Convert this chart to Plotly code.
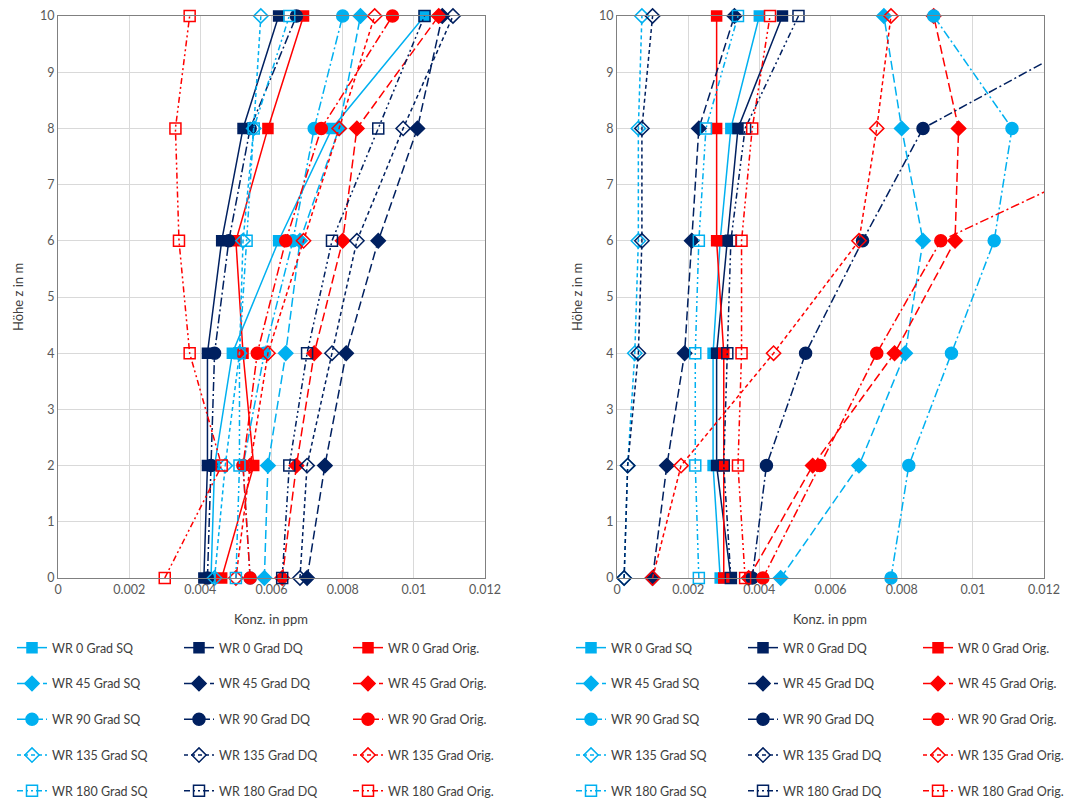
import plotly.graph_objects as go

# ---------------- data ----------------
heights = [0, 2, 4, 6, 8, 10]

x_tickvals = [0, 0.002, 0.004, 0.006, 0.008, 0.01, 0.012]
x_ticktext = ["0", "0.002", "0.004", "0.006", "0.008", "0.01", "0.012"]
y_tickvals = [0, 1, 2, 3, 4, 5, 6, 7, 8, 9, 10]

x_title = "Konz. in ppm"
y_title = "Höhe z in m"

# left panel
wr0_sq_L = [0.0043, 0.0044, 0.0049, 0.0062, 0.0077, 0.0103]
wr0_dq_L = [0.0041, 0.0042, 0.0042, 0.0046, 0.0052, 0.0062]
wr0_or_L = [0.0046, 0.0055, 0.0052, 0.0050, 0.0059, 0.0069]
wr45_sq_L = [0.0058, 0.0059, 0.0064, 0.0068, 0.0079, 0.0085]
wr45_dq_L = [0.0070, 0.0075, 0.0081, 0.0090, 0.0101, 0.0108]
wr45_or_L = [0.0063, 0.0067, 0.0072, 0.0080, 0.0084, 0.0107]
wr90_sq_L = [0.0054, 0.0052, 0.0058, 0.0066, 0.0072, 0.0080]
wr90_dq_L = [0.0042, 0.0043, 0.0044, 0.0048, 0.0054, 0.0067]
wr90_or_L = [0.0054, 0.0052, 0.0056, 0.0064, 0.0074, 0.0094]
wr135_sq_L = [0.0044, 0.0047, 0.0051, 0.0052, 0.0055, 0.0057]
wr135_dq_L = [0.0068, 0.0070, 0.0077, 0.0084, 0.0097, 0.0111]
wr135_or_L = [0.0050, 0.0054, 0.0059, 0.0069, 0.0079, 0.0089]
wr180_sq_L = [0.0050, 0.0051, 0.0051, 0.0053, 0.0055, 0.0065]
wr180_dq_L = [0.0063, 0.0065, 0.0070, 0.0077, 0.0090, 0.0103]
wr180_or_L = [0.0030, 0.0046, 0.0037, 0.0034, 0.0033, 0.0037]

# right panel
wr0_sq_R = [0.0029, 0.0027, 0.0027, 0.0029, 0.0032, 0.0040]
wr0_dq_R = [0.0032, 0.0028, 0.0028, 0.0031, 0.0034, 0.00465]
wr0_or_R = [0.0030, 0.0030, 0.0030, 0.0028, 0.0028, 0.0028]
wr45_sq_R = [0.0046, 0.0068, 0.0081, 0.0086, 0.0080, 0.0075]
wr45_dq_R = [0.0010, 0.0014, 0.0019, 0.0021, 0.0023, 0.0033]
wr45_or_R = [0.0037, 0.0055, 0.0078, 0.0095, 0.0096, 0.0089]
wr90_sq_R = [0.0077, 0.0082, 0.0094, 0.0106, 0.0111, 0.0089]
wr90_dq_R = [0.0038, 0.0042, 0.0053, 0.0069, 0.0086, 0.0144]
wr90_or_R = [0.0041, 0.0057, 0.0073, 0.0091, 0.0158, 0.0165]
wr135_sq_R = [0.0002, 0.0003, 0.0005, 0.0006, 0.0006, 0.0007]
wr135_dq_R = [0.0002, 0.0003, 0.0006, 0.0007, 0.0007, 0.0010]
wr135_or_R = [0.0010, 0.0018, 0.0044, 0.0068, 0.0073, 0.0077]
wr180_sq_R = [0.0023, 0.0022, 0.0022, 0.0023, 0.0025, 0.0034]
wr180_dq_R = [0.0032, 0.0030, 0.0031, 0.0032, 0.0036, 0.0051]
wr180_or_R = [0.0036, 0.0034, 0.0035, 0.0035, 0.0038, 0.0043]

angles = ["0", "45", "90", "135", "180"]
sources = ["SQ", "DQ", "Orig."]

left_data = [
    [wr0_sq_L, wr0_dq_L, wr0_or_L],
    [wr45_sq_L, wr45_dq_L, wr45_or_L],
    [wr90_sq_L, wr90_dq_L, wr90_or_L],
    [wr135_sq_L, wr135_dq_L, wr135_or_L],
    [wr180_sq_L, wr180_dq_L, wr180_or_L],
]
right_data = [
    [wr0_sq_R, wr0_dq_R, wr0_or_R],
    [wr45_sq_R, wr45_dq_R, wr45_or_R],
    [wr90_sq_R, wr90_dq_R, wr90_or_R],
    [wr135_sq_R, wr135_dq_R, wr135_or_R],
    [wr180_sq_R, wr180_dq_R, wr180_or_R],
]

# ---------------- styles ----------------
colors = ["#00B0F0", "#002060", "#FF0000"]
symbols = ["square", "diamond", "circle", "diamond-open", "square-open"]
msizes = [10, 11, 12, 11, 11]
dashes = ["solid", "9px,4px", "9px,3px,2px,3px", "4px,3px", "6px,3px,2px,3px,2px,3px"]

FONT = "Lato, 'Open Sans', sans-serif"
W, H = 1066, 799

# legend layout (pixel positions of text start for each column, row centres)
leg_text_x = [[52, 219, 388], [611, 783, 958]]
leg_row_y0, leg_row_dy = 648, 35.8

fig = go.Figure()
legend_layouts = {}
legend_style = dict(orientation="v", xref="container", yref="container", yanchor="middle",
                    xanchor="left", bgcolor="rgba(0,0,0,0)", borderwidth=0, visible=True,
                    font=dict(family=FONT, size=12.5, color="#404040"))

n = 0
for pi, (data, xa, ya) in enumerate([(left_data, "x", "y"), (right_data, "x2", "y2")]):
    for ai, ang in enumerate(angles):
        for si, src in enumerate(sources):
            n += 1
            lid = "legend" if n == 1 else f"legend{n}"
            fig.add_trace(go.Scatter(
                x=data[ai][si], y=heights,
                mode="lines+markers",
                name=f"WR {ang} Grad {src}",
                legend=lid, showlegend=True,
                xaxis=xa, yaxis=ya,
                cliponaxis=False,
                line=dict(color=colors[si], width=1.5, dash=dashes[ai]),
                marker=dict(symbol=symbols[ai], size=msizes[ai], color=colors[si],
                            line=dict(color=colors[si], width=1.5)),
            ))
            lx = leg_text_x[pi][si] - 40
            ly = leg_row_y0 + ai * leg_row_dy
            legend_layouts[lid] = dict(legend_style, x=lx / W, y=1 - ly / H)

axis_common = dict(
    showgrid=True, gridcolor="#D9D9D9", gridwidth=1,
    showline=True, linecolor="#808080", linewidth=1, mirror=True,
    zeroline=False, ticks="",
    tickfont=dict(family=FONT, size=12.5, color="#595959"),
)

xcommon = dict(axis_common, range=[0, 0.012], tickvals=x_tickvals, ticktext=x_ticktext)
ycommon = dict(axis_common, range=[0, 10], tickvals=y_tickvals)

title_font = dict(family=FONT, size=13, color="#404040")
annotations = []
for cx, yx in [(271, 18), (830, 577)]:
    annotations.append(dict(text=x_title, xref="paper", yref="paper",
                            x=(cx - 58) / 986, y=-(619 - 578) / 562,
                            xanchor="center", yanchor="middle", showarrow=False, font=title_font))
    annotations.append(dict(text=y_title, xref="paper", yref="paper",
                            x=(yx - 58) / 986, y=0.5, textangle=-90,
                            xanchor="center", yanchor="middle", showarrow=False, font=title_font))

fig.update_layout(
    width=W, height=H,
    showlegend=True,
    margin=dict(l=58, r=22, t=16, b=221, autoexpand=False),
    plot_bgcolor="white", paper_bgcolor="white",
    font=dict(family=FONT, size=12.5, color="#595959"),
    xaxis=dict(xcommon, domain=[0, 427 / 986], anchor="y"),
    yaxis=dict(ycommon, anchor="x"),
    xaxis2=dict(xcommon, domain=[559 / 986, 1], anchor="y2"),
    yaxis2=dict(ycommon, anchor="x2"),
    annotations=annotations,
    **legend_layouts,
)

fig.write_html("out.html", config={"displayModeBar": False},
               post_script="document.body.style.margin='0';")
